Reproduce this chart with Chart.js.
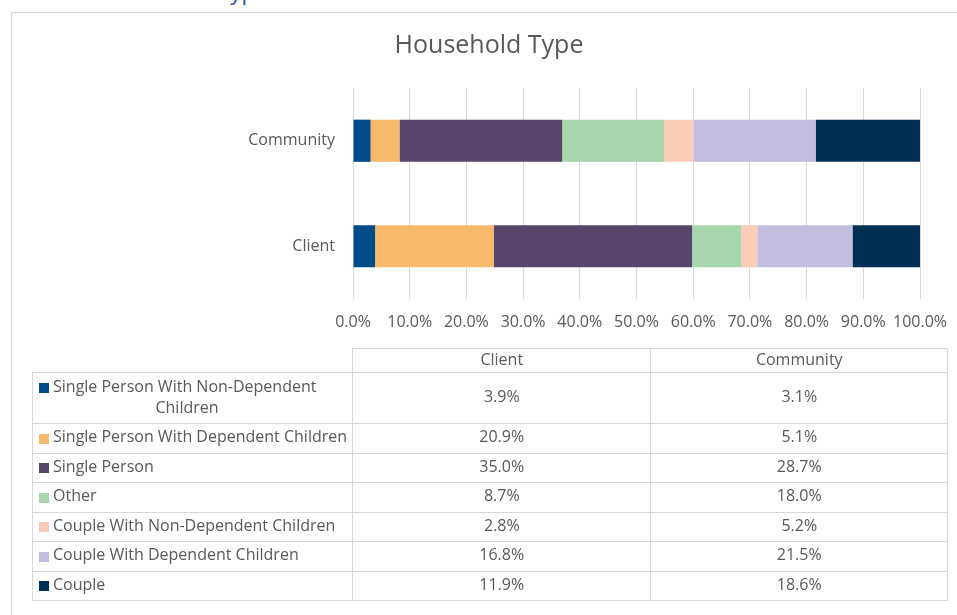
<!DOCTYPE html>
<html>
<head>
<meta charset="utf-8">
<title>Household Type</title>
<script src="https://cdn.jsdelivr.net/npm/chart.js@4.4.1/dist/chart.umd.min.js"></script>
<style>
  html, body { margin: 0; padding: 0; background: #fff; overflow: hidden; }
  #page { position: relative; width: 957px; height: 615px; overflow: hidden; }
  #heading { position: absolute; left: 101px; top: -20px; font: 22px/22px 'Open Sans', sans-serif; color: #2f5597; white-space: nowrap; }
  #frame { position: absolute; left: 11px; top: 12px; width: 1000px; height: 700px; border: 1px solid #d9d9d9; }
  #chart-box { position: absolute; left: 0; top: 0; width: 957px; height: 615px; }
</style>
</head>
<body>
<div id="page">
  <div id="heading">Household Type</div>
  <div id="frame"></div>
  <div id="chart-box"><canvas id="household-chart"></canvas></div>
</div>
<script>
'use strict';

// ***** DATA *****
let categories = ['Community', 'Client'];
let tableColumns = ['Client', 'Community'];
let seriesNames = [
  'Single Person With Non-Dependent Children',
  'Single Person With Dependent Children',
  'Single Person',
  'Other',
  'Couple With Non-Dependent Children',
  'Couple With Dependent Children',
  'Couple'
];
let clientShares = [3.9, 20.9, 35.0, 8.7, 2.8, 16.8, 11.9];
let communityShares = [3.1, 5.1, 28.7, 18.0, 5.2, 21.5, 18.6];
let tickValues = [0, 10, 20, 30, 40, 50, 60, 70, 80, 90, 100];

// ***** STYLE *****
let seriesColors = ['#004c8a', '#f9b96a', '#574669', '#a6d5ae', '#fbcdb9', '#c3bddf', '#012f53'];
let textGray = '#595959';
let lineGray = '#d9d9d9';
let fontFamily = "'Open Sans', sans-serif";

function pct(v) {
  return v.toFixed(1) + '%';
}

function sharesFor(column) {
  return column === 'Client' ? clientShares : communityShares;
}

// splits a legend label into lines that fit the first column
function wrapLabel(c, text, maxWidth) {
  let words = text.split(' ');
  let lines = [];
  let line = '';
  for (let i = 0; i < words.length; i++) {
    let test = line ? line + ' ' + words[i] : words[i];
    if (line && c.measureText(test).width > maxWidth) {
      lines.push(line);
      line = words[i];
    } else {
      line = test;
    }
  }
  lines.push(line);
  return lines;
}

// ***** DATA TABLE UNDER THE AXIS *****
let dataTablePlugin = {
  id: 'dataTable',
  afterDraw(chart) {
    let c = chart.ctx;
    let area = chart.chartArea;
    let leftX = 32;
    let splitX = area.left;
    let rightX = area.right + 28;
    let colWidth = (rightX - splitX) / tableColumns.length;
    let headTop = area.bottom + 49;
    let headBottom = headTop + 24;
    let keyX = 39;
    let textX = 53;

    c.save();
    c.font = '16px ' + fontFamily;
    c.fillStyle = textGray;
    c.textBaseline = 'middle';

    // row layout
    let rows = [];
    let y = headBottom;
    for (let i = 0; i < seriesNames.length; i++) {
      let lines = wrapLabel(c, seriesNames[i], splitX - textX - 2);
      let h = lines.length > 1 ? 51 : 29.5;
      rows.push({ top: y, height: h, lines: lines });
      y += h;
    }
    let tableBottom = y;

    // borders
    c.strokeStyle = lineGray;
    c.lineWidth = 1;
    c.beginPath();
    c.moveTo(splitX, Math.round(headTop) + 0.5);
    c.lineTo(rightX, Math.round(headTop) + 0.5);
    c.moveTo(leftX, Math.round(headBottom) + 0.5);
    c.lineTo(rightX, Math.round(headBottom) + 0.5);
    for (let i = 0; i < rows.length; i++) {
      let ry = Math.round(rows[i].top + rows[i].height) + 0.5;
      c.moveTo(leftX, ry);
      c.lineTo(rightX, ry);
    }
    c.moveTo(Math.round(leftX) + 0.5, headBottom);
    c.lineTo(Math.round(leftX) + 0.5, tableBottom);
    for (let k = 0; k <= tableColumns.length; k++) {
      let cx = Math.round(splitX + k * colWidth) - 0.5;
      c.moveTo(cx, headTop);
      c.lineTo(cx, tableBottom);
    }
    c.stroke();

    // header
    c.textAlign = 'center';
    for (let k = 0; k < tableColumns.length; k++) {
      c.fillText(tableColumns[k], splitX + (k + 0.5) * colWidth, (headTop + headBottom) / 2);
    }

    // body rows
    for (let i = 0; i < rows.length; i++) {
      let r = rows[i];
      let mid = r.top + r.height / 2;
      let firstY = mid - (r.lines.length - 1) * 10.5;

      c.fillStyle = seriesColors[i];
      c.fillRect(keyX, Math.round(firstY) - 4, 10, 10);

      c.fillStyle = textGray;
      c.textAlign = 'left';
      c.fillText(r.lines[0], textX, firstY);
      c.textAlign = 'center';
      for (let j = 1; j < r.lines.length; j++) {
        c.fillText(r.lines[j], (textX + splitX - 32) / 2, firstY + j * 21);
      }

      for (let k = 0; k < tableColumns.length; k++) {
        let value = sharesFor(tableColumns[k])[i];
        c.fillText(pct(value), splitX + (k + 0.5) * colWidth, mid);
      }
    }
    c.restore();
  }
};

// ***** CHART *****
let datasets = [];
for (let i = 0; i < seriesNames.length; i++) {
  datasets.push({
    label: seriesNames[i],
    data: [communityShares[i], clientShares[i]],
    backgroundColor: seriesColors[i],
    borderWidth: 0,
    categoryPercentage: 0.8,
    barPercentage: 0.5
  });
}

let ctx = document.getElementById('household-chart');

// left padding keeps the title centred on the whole frame, the y axis fills the rest
new Chart(ctx, {
  type: 'bar',
  data: {
    labels: categories,
    datasets: datasets
  },
  options: {
    indexAxis: 'y',
    responsive: true,
    maintainAspectRatio: false,
    animation: false,
    layout: {
      padding: { top: 20, right: 37, bottom: 276, left: 58 }
    },
    plugins: {
      legend: { display: false },
      tooltip: { enabled: false },
      title: {
        display: true,
        text: 'Household Type',
        color: textGray,
        font: { family: fontFamily, size: 25, weight: 'normal' },
        padding: { top: 11, bottom: 27 }
      }
    },
    scales: {
      x: {
        stacked: true,
        min: 0,
        max: 100,
        afterBuildTicks(scale) {
          scale.ticks = tickValues.map(v => ({ value: v }));
        },
        afterFit(scale) {
          scale.height = 40;
          scale.paddingLeft = 0;
          scale.paddingRight = 0;
        },
        grid: { color: lineGray, drawTicks: false },
        border: { display: false },
        ticks: {
          color: textGray,
          padding: 14,
          maxRotation: 0,
          autoSkip: false,
          font: { family: fontFamily, size: 16 },
          callback: v => pct(v)
        }
      },
      y: {
        stacked: true,
        afterFit(scale) {
          scale.width = 295;
        },
        grid: { display: false, drawTicks: false },
        border: { display: false },
        ticks: {
          color: textGray,
          padding: 18,
          font: { family: fontFamily, size: 16 }
        }
      }
    }
  },
  plugins: [dataTablePlugin]
});
</script>
</body>
</html>
